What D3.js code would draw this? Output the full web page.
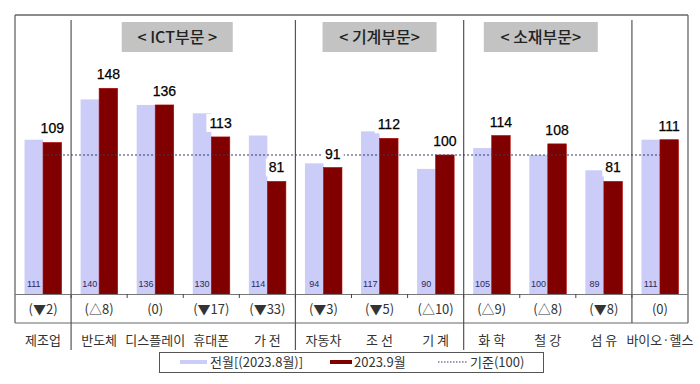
<!DOCTYPE html>
<html><head><meta charset="utf-8">
<script src="https://cdn.jsdelivr.net/npm/d3@7"></script>
<style>
html,body{margin:0;padding:0;background:#fff;}
svg{display:block;}
text{font-family:"Liberation Sans","Noto Sans CJK KR",Arial,sans-serif;}
.kr{font-family:"Noto Sans CJK KR","Liberation Sans",sans-serif;}
</style></head>
<body>
<script>
const categories = ["제조업","반도체","디스플레이","휴대폰","가 전","자동차","조 선","기 계","화 학","철 강","섬 유","바이오·헬스"];
const prevMonth = [111,140,136,130,114,94,117,90,105,100,89,111];
const curMonth  = [109,148,136,113,81,91,112,100,114,108,81,111];
const changes = ["(▼2)","(△8)","(0)","(▼17)","(▼33)","(▼3)","(▼5)","(△10)","(△9)","(△8)","(▼8)","(0)"];
const groupLabels = ["< ICT부문 >","< 기계부문>","< 소재부문>"];
const groupFirst = [1,5,8];
const groupLast = [4,7,10];
const separatorsAfter = [0,4,7,10];
const seriesNames = ["전월[(2023.8월)]","2023.9월","기준(100)"];
const baseValue = 100;

(function(){
const W=700,H=384;
const svg=d3.select("body").append("svg").attr("width",W).attr("height",H);
const pL=15,pR=688,pT=15,base=294;
const x=d3.scaleBand().domain(categories).range([pL,pR]).paddingInner(0.34).paddingOuter(0.17);
const xs=d3.scaleBand().domain(["prev","cur"]).range([0,x.bandwidth()]);
const y=d3.scaleLinear().domain([0,200]).range([base,16]);
const step=x.step();
const boundary=i=>pL+step*(i+1);
const colPrev="#ccccf8", colCur="#800000";

const lineCol="#666";
svg.append("line").attr("x1",pL).attr("x2",pR).attr("y1",pT).attr("y2",pT).attr("stroke",lineCol).attr("stroke-width",1.3);
svg.append("line").attr("x1",pL).attr("x2",pL).attr("y1",pT).attr("y2",323).attr("stroke",lineCol).attr("stroke-width",1.3);
svg.append("line").attr("x1",pR).attr("x2",pR).attr("y1",pT).attr("y2",323).attr("stroke",lineCol).attr("stroke-width",1.3);
svg.append("line").attr("x1",pL).attr("x2",pR).attr("y1",323).attr("y2",323).attr("stroke",lineCol).attr("stroke-width",1.2);

separatorsAfter.forEach((i,k)=>{
  const bx=boundary(i);
  svg.append("line").attr("x1",bx).attr("x2",bx).attr("y1",20).attr("y2",k===separatorsAfter.length-1?323:350)
    .attr("stroke","#555").attr("stroke-width",1.2);
});

const headerDx=[-6,0,-7];
groupLabels.forEach((g,i)=>{
  const cx=(x(categories[groupFirst[i]])+x(categories[groupLast[i]])+x.bandwidth())/2+headerDx[i];
  const w= i===0?111:114;
  svg.append("rect").attr("x",cx-w/2).attr("y",22).attr("width",w).attr("height",30).attr("fill","#c3c3c3");
  svg.append("text").attr("class","kr").attr("x",cx).attr("y",43).attr("text-anchor","middle")
    .attr("font-size",16).attr("font-weight",500).attr("fill","#222").text(g);
});

const bars=svg.append("g");
categories.forEach((c,i)=>{
  bars.append("rect").attr("x",x(c)+xs("prev")).attr("y",y(prevMonth[i])).attr("width",xs.bandwidth()).attr("height",base-y(prevMonth[i])).attr("fill",colPrev);
  bars.append("rect").attr("x",x(c)+xs("cur")).attr("y",y(curMonth[i])).attr("width",xs.bandwidth()).attr("height",base-y(curMonth[i])).attr("fill",colCur)
    .attr("stroke","#b00000").attr("stroke-width",0.6);
});

const c0=x(categories[0])+xs("cur"), c1=x(categories[categories.length-1])+xs("cur");
svg.append("line").attr("x1",c0).attr("x2",c1).attr("y1",y(baseValue)).attr("y2",y(baseValue))
  .attr("stroke","#333a66").attr("stroke-width",1).attr("stroke-dasharray","2,2");

svg.append("line").attr("x1",pL).attr("x2",pR).attr("y1",base+0.5).attr("y2",base+0.5).attr("stroke","#777").attr("stroke-width",1);
for(let i=0;i<categories.length-1;i++){
  svg.append("line").attr("x1",boundary(i)).attr("x2",boundary(i)).attr("y1",base).attr("y2",base+4).attr("stroke","#444").attr("stroke-width",1);
}

categories.forEach((c,i)=>{
  const cx=x(c)+xs("cur")+xs.bandwidth()/2;
  const by=y(curMonth[i])-9;
  const g=svg.append("g");
  const t=g.append("text").attr("x",cx).attr("y",by).attr("text-anchor","middle").attr("font-size",14).attr("fill","#000").attr("stroke","#000").attr("stroke-width",0.25).text(curMonth[i]);
  const bb=t.node().getBBox();
  g.insert("rect","text").attr("x",bb.x-3).attr("y",bb.y-1).attr("width",bb.width+6).attr("height",bb.height+2).attr("fill","#fff");
});

categories.forEach((c,i)=>{
  svg.append("text").attr("x",x(c)+xs("prev")+xs.bandwidth()/2).attr("y",287).attr("text-anchor","middle")
    .attr("font-size",9).attr("fill","#2a2a5a").text(prevMonth[i]);
});

categories.forEach((c,i)=>{
  svg.append("text").attr("class","kr").attr("x",x(c)+x.bandwidth()/2).attr("y",314).attr("text-anchor","middle")
    .attr("font-size",13).attr("fill","#333").text(changes[i]);
});

categories.forEach((c,i)=>{
  svg.append("text").attr("class","kr").attr("x",x(c)+x.bandwidth()/2).attr("y",345).attr("text-anchor","middle")
    .attr("font-size",13).attr("fill","#333").text(c);
});

const lg=svg.append("g");
lg.append("rect").attr("x",159.5).attr("y",352.5).attr("width",384).attr("height",20).attr("fill","#fff").attr("stroke","#555").attr("stroke-width",1);
lg.append("line").attr("x1",180).attr("x2",207).attr("y1",362).attr("y2",362).attr("stroke",colPrev).attr("stroke-width",4);
lg.append("text").attr("class","kr").attr("x",210).attr("y",367).attr("font-size",13).attr("fill","#333").text(seriesNames[0]);
lg.append("line").attr("x1",330).attr("x2",352).attr("y1",362).attr("y2",362).attr("stroke",colCur).attr("stroke-width",4);
lg.append("text").attr("class","kr").attr("x",354).attr("y",367).attr("font-size",13).attr("fill","#333").text(seriesNames[1]);
lg.append("line").attr("x1",438).attr("x2",467).attr("y1",362).attr("y2",362).attr("stroke","#333a66").attr("stroke-width",1).attr("stroke-dasharray","1.5,1.5");
lg.append("text").attr("class","kr").attr("x",470).attr("y",367).attr("font-size",13).attr("fill","#333").text(seriesNames[2]);
})();
</script>
</body></html>
